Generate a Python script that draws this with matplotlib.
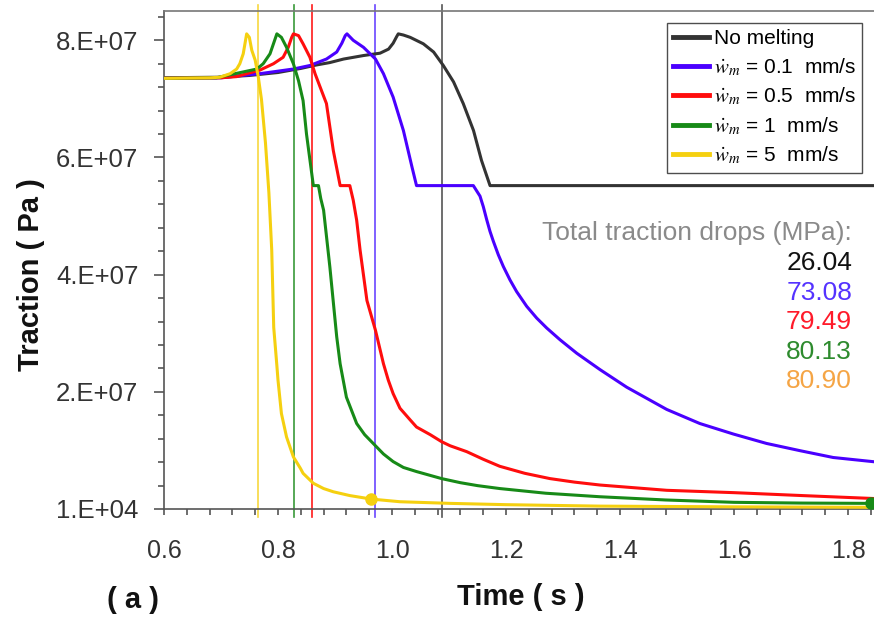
import matplotlib
matplotlib.use("Agg")
import matplotlib.pyplot as plt
from matplotlib.ticker import FixedLocator, FixedFormatter, MultipleLocator
from matplotlib.lines import Line2D

plt.rcParams['font.family'] = ['Liberation Sans', 'DejaVu Sans']
plt.rcParams['mathtext.fontset'] = 'stix'

# ---- traction histories (time in s, traction in Pa) ----
t_none = [0.59, 0.70, 0.75, 0.80, 0.84, 0.868, 0.891, 0.915, 0.95, 0.979, 0.994, 1.002,
          1.008, 1.011, 1.02, 1.032, 1.055, 1.073, 1.09, 1.108, 1.125, 1.143, 1.157, 1.172, 1.85]
T_none = [7.36e7, 7.37e7, 7.40e7, 7.45e7, 7.52e7, 7.58e7, 7.62e7, 7.68e7, 7.74e7, 7.78e7, 7.85e7, 7.95e7,
          8.06e7, 8.11e7, 8.09e7, 8.05e7, 7.94e7, 7.80e7, 7.57e7, 7.29e7, 6.92e7, 6.46e7, 5.95e7, 5.52e7, 5.52e7]

t_01 = [0.59, 0.70, 0.7275, 0.768, 0.827, 0.856, 0.885, 0.903, 0.912, 0.918, 0.921, 0.932, 0.95,
        0.971, 0.985, 1.002, 1.02, 1.035, 1.043, 1.1427, 1.1544, 1.1602, 1.1661, 1.1719, 1.1778,
        1.1865, 1.1953, 1.207, 1.2187, 1.2363, 1.2538, 1.2714, 1.2947, 1.324, 1.3649, 1.4117,
        1.482, 1.540, 1.599, 1.657, 1.716, 1.774, 1.846]
T_01 = [7.35e7, 7.36e7, 7.39e7, 7.43e7, 7.51e7, 7.57e7, 7.68e7, 7.80e7, 7.95e7, 8.08e7, 8.11e7, 8.00e7, 7.88e7,
        7.68e7, 7.43e7, 7.03e7, 6.46e7, 5.84e7, 5.52e7, 5.52e7, 5.34e7, 5.16e7, 4.94e7, 4.74e7, 4.57e7,
        4.34e7, 4.14e7, 3.91e7, 3.71e7, 3.46e7, 3.26e7, 3.09e7, 2.89e7, 2.66e7, 2.38e7, 2.08e7,
        1.70e7, 1.46e7, 1.28e7, 1.12e7, 9.96e6, 8.8e6, 8.07e6]

t_05 = [0.59, 0.70, 0.7275, 0.745, 0.768, 0.792, 0.809, 0.818, 0.824, 0.827, 0.836, 0.844, 0.856,
        0.865, 0.874, 0.885, 0.897, 0.909, 0.926, 0.932, 0.938, 0.944, 0.956, 0.971, 0.985, 0.9935,
        1.002, 1.014, 1.032, 1.043, 1.067, 1.087, 1.102, 1.131, 1.16, 1.189, 1.233, 1.277, 1.32,
        1.365, 1.482, 1.60, 1.72, 1.845]
T_05 = [7.35e7, 7.36e7, 7.38e7, 7.43e7, 7.49e7, 7.60e7, 7.71e7, 7.88e7, 8.05e7, 8.11e7, 8.08e7, 7.94e7, 7.71e7,
        7.43e7, 7.20e7, 6.92e7, 6.12e7, 5.52e7, 5.52e7, 5.27e7, 4.93e7, 4.42e7, 3.56e7, 3.05e7, 2.48e7, 2.2e7,
        1.97e7, 1.72e7, 1.52e7, 1.40e7, 1.27e7, 1.15e7, 1.08e7, 9.8e6, 8.5e6, 7.3e6, 6.1e6, 5.2e6, 4.6e6,
        4.1e6, 3.2e6, 2.8e6, 2.3e6, 1.8e6]

t_1 = [0.59, 0.692, 0.71, 0.739, 0.763, 0.774, 0.786, 0.792, 0.798, 0.806, 0.815, 0.827, 0.836,
       0.844, 0.850, 0.862, 0.871, 0.875, 0.880, 0.891, 0.903, 0.909, 0.92, 0.938, 0.952, 0.967,
       0.985, 1.002, 1.02, 1.043, 1.065, 1.087, 1.12, 1.15, 1.189, 1.27, 1.365, 1.48, 1.60, 1.72, 1.84]
T_1 = [7.35e7, 7.36e7, 7.40e7, 7.46e7, 7.51e7, 7.60e7, 7.77e7, 7.94e7, 8.11e7, 8.05e7, 7.88e7, 7.60e7, 7.31e7,
       6.97e7, 6.40e7, 5.52e7, 5.52e7, 5.30e7, 5.10e7, 4.13e7, 2.94e7, 2.48e7, 1.91e7, 1.46e7, 1.27e7, 1.12e7,
       9.4e6, 8.1e6, 7.1e6, 6.4e6, 5.8e6, 5.2e6, 4.5e6, 4.0e6, 3.5e6, 2.7e6, 2.1e6, 1.55e6, 1.15e6, 1.02e6, 9.7e5]

t_5 = [0.59, 0.681, 0.698, 0.716, 0.7275, 0.733, 0.739, 0.742, 0.745, 0.7497, 0.754, 0.760, 0.7655,
       0.771, 0.778, 0.784, 0.789, 0.7925, 0.798, 0.80, 0.806, 0.815, 0.821, 0.827, 0.839, 0.844,
       0.862, 0.88, 0.897, 0.926, 0.964, 1.014, 1.102, 1.2, 1.365, 1.6, 1.845]
T_5 = [7.35e7, 7.36e7, 7.37e7, 7.43e7, 7.51e7, 7.60e7, 7.77e7, 7.94e7, 8.11e7, 8.05e7, 7.83e7, 7.66e7, 7.37e7,
       6.99e7, 6.25e7, 5.40e7, 4.42e7, 3.10e7, 2.45e7, 2.2e7, 1.63e7, 1.23e7, 1.06e7, 8.9e6, 7.0e6, 6.1e6,
       4.4e6, 3.5e6, 2.95e6, 2.3e6, 1.7e6, 1.25e6, 9.7e5, 7.5e5, 5.0e5, 3.8e5, 3.0e5]

# onset times (vertical markers), same order as the series
onset = [1.088, 0.9695, 0.860, 0.8275, 0.765]

labels = ['No melting',
          r'$\dot{w}_m$ = 0.1  mm/s',
          r'$\dot{w}_m$ = 0.5  mm/s',
          r'$\dot{w}_m$ = 1  mm/s',
          r'$\dot{w}_m$ = 5  mm/s']
drops = ['26.04', '73.08', '79.49', '80.13', '80.90']

curve_colors = ['#333333', '#4a00ff', '#ff0d0d', '#178a17', '#f5d010']
vline_colors = ['#555555', '#6a45ff', '#ff1a1a', '#3a9a3a', '#f7d840']
drop_colors = ['#111111', '#5533ff', '#ff1a2a', '#2e8b2e', '#f5a545']

y_ticks = [1e4, 2e7, 4e7, 6e7, 8e7]
y_ticklabels = ['1.E+04', '2.E+07', '4.E+07', '6.E+07', '8.E+07']
x_ticks = [0.6, 0.8, 1.0, 1.2, 1.4, 1.6, 1.8]
x_ticklabels = ['0.6', '0.8', '1.0', '1.2', '1.4', '1.6', '1.8']

series = [(t_none, T_none), (t_01, T_01), (t_05, T_05), (t_1, T_1), (t_5, T_5)]

fig = plt.figure(figsize=(8.74, 6.17), dpi=100)
ax = fig.add_axes([164 / 874, 1 - 509 / 617, 710 / 874, 498 / 617])

ax.set_xlim(0.6, 1.8456)
ax.set_ylim(1e4, 8.5e7)

# vertical markers at the onset of weakening
for xv, c in zip(onset, vline_colors):
    ax.axvline(xv, ymin=-0.017, ymax=1.012, color=c, lw=1.2, clip_on=False, zorder=2)

for (t, T), c in zip(series, curve_colors):
    ax.plot(t, T, color=c, lw=2.2, solid_joinstyle='round', zorder=3)

# end-of-interval dots
ax.plot(t_5[30], T_5[30], 'o', color=curve_colors[4], ms=8, zorder=4)
ax.plot(t_1[-1], T_1[-1], 'o', color=curve_colors[3], ms=8, zorder=4, clip_on=False)

# axes styling
ax.spines['right'].set_visible(False)
for side in ['left', 'bottom']:
    ax.spines[side].set_color('#555555')
    ax.spines[side].set_linewidth(1.2)
ax.spines['top'].set_color('#777777')
ax.spines['top'].set_linewidth(1.2)

ax.yaxis.set_major_locator(FixedLocator(y_ticks))
ax.yaxis.set_major_formatter(FixedFormatter(y_ticklabels))
ax.yaxis.set_minor_locator(MultipleLocator(4e6))
ax.xaxis.set_major_locator(FixedLocator(x_ticks))
ax.xaxis.set_major_formatter(FixedFormatter(x_ticklabels))
ax.xaxis.set_minor_locator(MultipleLocator(0.04))

ax.tick_params(axis='y', which='major', length=7, width=1.2, color='#555555',
               labelsize=18.5, labelcolor='#333333', pad=11.5)
ax.tick_params(axis='y', which='minor', length=4, width=1.2, color='#555555')
ax.tick_params(axis='x', which='both', length=4.5, width=1.2, color='#555555',
               labelsize=18, labelcolor='#333333', pad=17)

ax.set_xlabel('Time ( s )', fontsize=21, fontweight='bold', color='#111111')
ax.xaxis.set_label_coords(0.503, -0.149)
ax.set_ylabel('Traction ( Pa )', fontsize=21, fontweight='bold', color='#111111')
ax.yaxis.set_label_coords(-0.168, 0.47)

fig.text(133 / 874, 1 - 600 / 617, '( a )', fontsize=21, fontweight='bold',
         color='#111111', ha='center', va='center')

# legend
handles = [Line2D([], [], color=c, lw=3.5) for c in curve_colors]
leg = ax.legend(handles, labels, loc='upper left',
                bbox_to_anchor=(666.7 / 874, 1 - 22.7 / 617), bbox_transform=fig.transFigure,
                fontsize=15, frameon=True, fancybox=False, edgecolor='#222222',
                handlelength=1.75, handletextpad=0.2, labelspacing=0.38, borderpad=0.3,
                borderaxespad=0)
leg.get_frame().set_linewidth(1.0)
leg.set_zorder(5)

# drop summary
ax.text(852 / 874, 1 - 233 / 617, 'Total traction drops (MPa):', transform=fig.transFigure,
        ha='right', va='center', fontsize=19, color='#8a8a8a')
for i, (s, c) in enumerate(zip(drops, drop_colors)):
    ax.text(852 / 874, 1 - (263 + 29.6 * i) / 617, s, transform=fig.transFigure,
            ha='right', va='center', fontsize=19, color=c)

fig.savefig('out.png', dpi=100)
